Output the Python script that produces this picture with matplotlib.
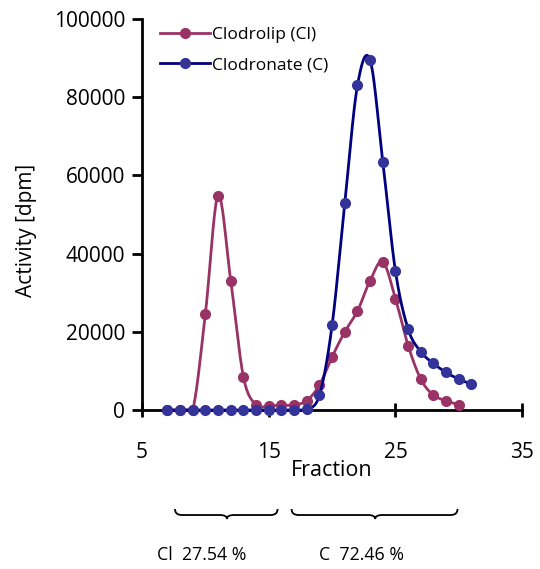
import numpy as np
import matplotlib
matplotlib.use('Agg')
from matplotlib import pyplot as plt
from matplotlib.path import Path
from matplotlib.patches import PathPatch
import matplotlib.transforms as mtransforms

plt.rcParams['font.family'] = ['Open Sans', 'DejaVu Sans']

# fractions and activities
frac_cl = np.arange(7, 31)
act_cl = [0, 0, 0, 24600, 54800, 33100, 8500, 1300, 1100, 1200, 1300, 2400,
          6400, 13600, 20000, 25300, 33100, 37900, 28500, 16500, 7900, 3800,
          2400, 1300]
frac_c = np.arange(7, 32)
act_c = [0, 0, 0, 0, 0, 0, 0, 0, 0, 0, 0, 200, 3800, 21700, 52900, 83000,
         89500, 63500, 35500, 20700, 14900, 11900, 9600, 7900, 6600]

labels = ['Clodrolip (Cl)', 'Clodronate (C)']
shares = ['Cl  27.54 %', 'C  72.46 %']
# brace spans (fraction units): start, end, tip
braces = [(7.6, 15.7, 11.7), (16.8, 29.9, 23.4)]
share_x = [6.2, 19.0]

red = '#993366'
navy = '#000080'
blue = '#333399'


def smooth(x, y, n=20):
    # Catmull-Rom curve through the points, like a spreadsheet's smoothed line
    x = np.asarray(x, float)
    y = np.asarray(y, float)
    px = np.r_[x[0], x, x[-1]]
    py = np.r_[y[0], y, y[-1]]
    xs, ys = [], []
    t = np.linspace(0, 1, n, endpoint=False)
    for i in range(1, len(px) - 2):
        m0x = (px[i + 1] - px[i - 1]) / 2
        m1x = (px[i + 2] - px[i]) / 2
        m0y = (py[i + 1] - py[i - 1]) / 2
        m1y = (py[i + 2] - py[i]) / 2
        h00 = 2 * t**3 - 3 * t**2 + 1
        h10 = t**3 - 2 * t**2 + t
        h01 = -2 * t**3 + 3 * t**2
        h11 = t**3 - t**2
        xs.append(h00 * px[i] + h10 * m0x + h01 * px[i + 1] + h11 * m1x)
        ys.append(h00 * py[i] + h10 * m0y + h01 * py[i + 1] + h11 * m1y)
    xs.append([x[-1]])
    ys.append([y[-1]])
    # no dipping below the baseline
    return np.concatenate(xs), np.maximum(np.concatenate(ys), 0)


fig = plt.figure(figsize=(5.4, 5.69), dpi=100)
ax = fig.add_axes([0.263, 0.2794, 0.704, 0.6872])

sx, sy = smooth(frac_cl, act_cl)
ax.plot(sx, sy, color=red, lw=2, clip_on=False, zorder=2)
ax.plot(frac_cl, act_cl, 'o', color=red, ms=7, clip_on=False, zorder=3)
sx, sy = smooth(frac_c, act_c)
ax.plot(sx, sy, color=navy, lw=2, clip_on=False, zorder=4)
ax.plot(frac_c, act_c, 'o', color=blue, ms=7, clip_on=False, zorder=5)

# legend proxies
h1, = ax.plot([], [], '-o', color=red, ms=7, lw=2, mfc=red, mec=red)
h2, = ax.plot([], [], '-o', color=navy, ms=7, lw=2, mfc=blue, mec=blue)
ax.legend([h1, h2], labels, loc='upper left', bbox_to_anchor=(0.047, 0.98),
          frameon=False, fontsize=12.5, handlelength=2.9, handletextpad=0.1,
          labelspacing=0.8, borderpad=0, borderaxespad=0)

ax.set_xlim(5, 35)
ax.set_ylim(0, 100000)
ax.set_xticks([5, 15, 25, 35])
ax.set_yticks(np.arange(0, 100001, 20000))
ax.spines['top'].set_visible(False)
ax.spines['right'].set_visible(False)
ax.spines['left'].set_linewidth(2)
ax.spines['bottom'].set_linewidth(2)
ax.tick_params(axis='x', direction='inout', length=10, width=2, labelsize=15, pad=18)
ax.tick_params(axis='y', direction='out', length=7, width=2, labelsize=15, pad=5)
ax.set_xlabel('Fraction', fontsize=15.5, labelpad=-2)
ax.set_ylabel('Activity [dpm]', fontsize=15)
ax.yaxis.set_label_coords(-0.276, 0.458)

# curly braces under the two peaks
trans = mtransforms.blended_transform_factory(ax.transData, ax.transAxes)
px_y = 1 / 391.0
y_top, y_flat, y_tip = -99 * px_y, -105 * px_y, -109 * px_y
for (x0, x1, xm) in braces:
    r = 0.55
    verts = [(x0, y_top), (x0, y_flat), (x0 + r, y_flat),
             (xm - r, y_flat),
             (xm, y_flat), (xm, y_tip),
             (xm, y_flat), (xm + r, y_flat),
             (x1 - r, y_flat),
             (x1, y_flat), (x1, y_top)]
    codes = [Path.MOVETO, Path.CURVE3, Path.CURVE3, Path.LINETO,
             Path.CURVE3, Path.CURVE3, Path.CURVE3, Path.CURVE3,
             Path.LINETO, Path.CURVE3, Path.CURVE3]
    ax.add_patch(PathPatch(Path(verts, codes), fill=False, lw=1.3,
                           edgecolor='black', transform=trans, clip_on=False))

for x, s in zip(share_x, shares):
    ax.text(x, -145 * px_y, s, transform=trans, fontsize=12.8,
            ha='left', va='center')

fig.savefig('out.png', dpi=100)
